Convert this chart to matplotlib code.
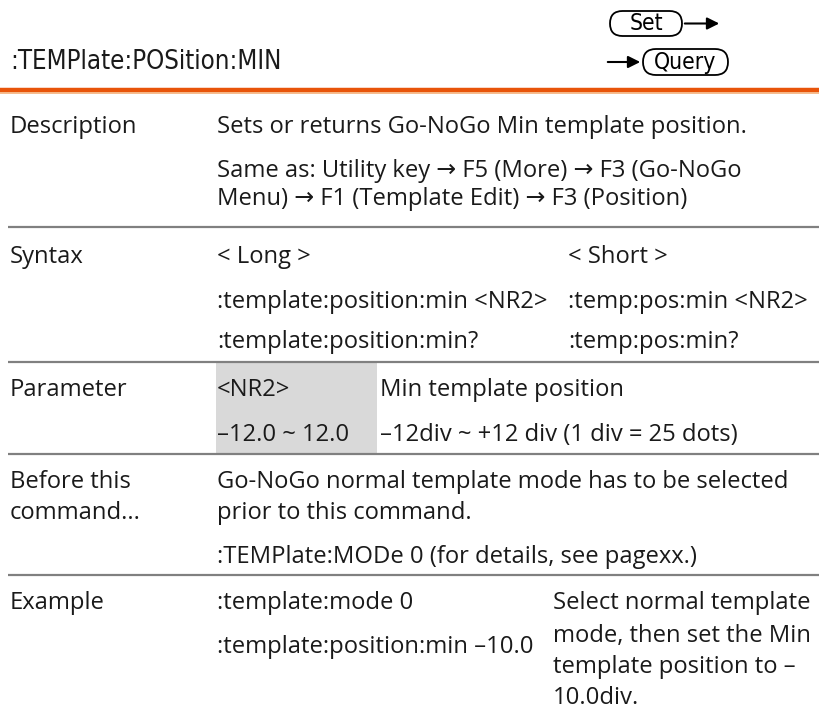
import matplotlib
matplotlib.use("Agg")
import matplotlib.pyplot as plt
from matplotlib.patches import FancyBboxPatch, Rectangle

NARROW = "DejaVu Sans"
BODY = ["Open Sans", "DejaVu Sans"]   # DejaVu for the arrows Open Sans lacks

# page content
title = ":TEMPlate:POSition:MIN"
row_labels = ["Description", "Syntax", "Parameter", ["Before this", "command..."], "Example"]
desc_lines = ["Sets or returns Go-NoGo Min template position.",
              "Same as: Utility key \u2192 F5 (More) \u2192 F3 (Go-NoGo",
              "Menu) \u2192 F1 (Template Edit) \u2192 F3 (Position)"]
syntax_long = ["< Long >", ":template:position:min <NR2>", ":template:position:min?"]
syntax_short = ["< Short >", ":temp:pos:min <NR2>", ":temp:pos:min?"]
param_names = ["<NR2>", "\u201312.0 ~ 12.0"]
param_desc = ["Min template position", "\u201312div ~ +12 div (1 div = 25 dots)"]
before_lines = ["Go-NoGo normal template mode has to be selected",
                "prior to this command.",
                ":TEMPlate:MODe 0 (for details, see pagexx.)"]
example_cmds = [":template:mode 0", ":template:position:min \u201310.0"]
example_note = ["Select normal template", "mode, then set the Min",
                "template position to \u2013", "10.0div."]

# layout (pixels, y down)
W, H = 820, 710
X_LABEL, X_BODY, X_COL2, X_SHORT, X_NOTE = 10, 217, 380, 568, 553
FS = 17.1
GRAY_LINE = "#808080"

fig = plt.figure(figsize=(W / 100, H / 100), dpi=100)
ax = fig.add_axes([0, 0, 1, 1])
ax.set_xlim(0, W)
ax.set_ylim(H, 0)
ax.axis("off")


def txt(x, y, s, **kw):
    kw.setdefault("fontsize", FS)
    kw.setdefault("family", BODY)
    kw.setdefault("color", "#1a1a1a")
    ax.text(x, y, s, va="center", ha="left", **kw)


# header
txt(X_LABEL, 62, title, family=NARROW, fontstretch="condensed", fontsize=18.5)
ax.add_patch(FancyBboxPatch((610, 11), 72, 25, boxstyle="round,pad=0,rounding_size=12.5",
                            fc="white", ec="black", lw=1.3))
ax.text(646, 24, "Set", ha="center", va="center", family=NARROW,
        fontstretch="condensed", fontsize=16.5)
ax.annotate("", xy=(722, 23.5), xytext=(682, 23.5),
            arrowprops=dict(arrowstyle="-|>", color="black", lw=1.5, mutation_scale=18))
ax.add_patch(FancyBboxPatch((643, 49), 85, 26, boxstyle="round,pad=0,rounding_size=13",
                            fc="white", ec="black", lw=1.3))
ax.text(685.5, 62.5, "Query", ha="center", va="center", family=NARROW,
        fontstretch="condensed", fontsize=16.5)
ax.annotate("", xy=(643, 62), xytext=(605, 62),
            arrowprops=dict(arrowstyle="-|>", color="black", lw=1.5, mutation_scale=18))
ax.plot([0, W], [90, 90], color="#e8540a", lw=3.2, solid_capstyle="butt")
ax.plot([0, W], [93, 93], color="#f5b07a", lw=1.2, solid_capstyle="butt")

# separators
for y in [227, 362, 454, 575]:
    ax.plot([8, W], [y, y], color=GRAY_LINE, lw=1.6, solid_capstyle="butt")

# Description
txt(X_LABEL, 127, row_labels[0])
for y, s in zip([127, 171, 199], desc_lines):
    txt(X_BODY, y, s)

# Syntax
txt(X_LABEL, 257, row_labels[1])
for y, a, b in zip([257, 302, 342], syntax_long, syntax_short):
    txt(X_BODY, y, a)
    txt(X_SHORT, y, b)

# Parameter
ax.add_patch(Rectangle((216, 363), 161, 90, fc="#d9d9d9", ec="none"))
txt(X_LABEL, 390, row_labels[2])
for y, a, b in zip([390, 435], param_names, param_desc):
    txt(X_BODY, y, a)
    txt(X_COL2, y, b)

# Before this command
for y, s in zip([482, 513], row_labels[3]):
    txt(X_LABEL, y, s)
for y, s in zip([482, 513, 557], before_lines):
    txt(X_BODY, y, s)

# Example
txt(X_LABEL, 603, row_labels[4])
for y, s in zip([603, 647], example_cmds):
    txt(X_BODY, y, s)
for y, s in zip([603, 636, 667, 698], example_note):
    txt(X_NOTE, y, s)

fig.savefig("out.png", dpi=100)
